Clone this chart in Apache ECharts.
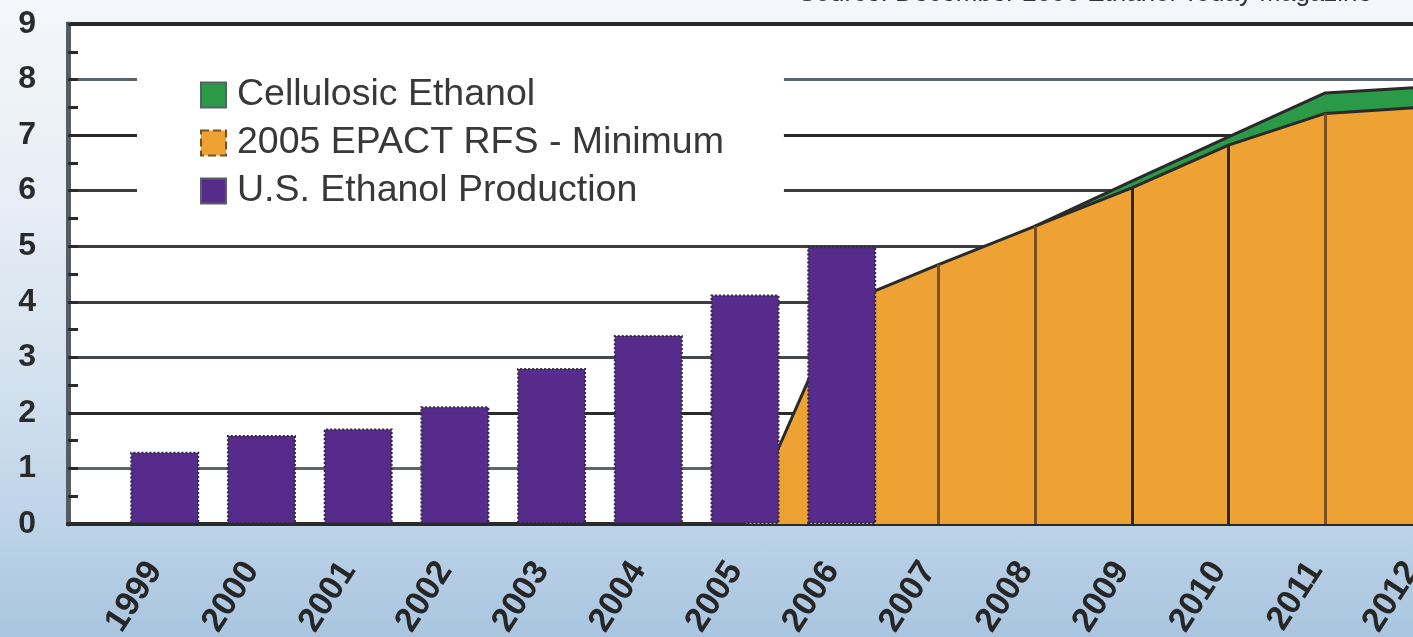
<!DOCTYPE html>
<html>
<head>
<meta charset="utf-8">
<script src="https://cdn.jsdelivr.net/npm/echarts@6/dist/echarts.min.js"></script>
<style>
html, body { margin: 0; padding: 0; overflow: hidden; width: 1413px; height: 637px; }
#chart { width: 1440px; height: 637px;
  background: linear-gradient(to bottom, #f4f7fb 0%, #e8eef6 30%, #d3e1ee 60%, #bdd3e8 82%, #a9c5df 100%); }
</style>
</head>
<body>
<div id="chart"></div>
<script>
// Categories (first slot is an empty lead-in position on the axis)
const categories = ['', '1999', '2000', '2001', '2002', '2003', '2004', '2005', '2006', '2007', '2008', '2009', '2010', '2011', '2012'];
// U.S. Ethanol Production (billion gallons)
const productionValues = [null, 1.30, 1.60, 1.72, 2.12, 2.81, 3.40, 4.13, 5.0, null, null, null, null, null, null];
// 2005 EPACT RFS - Minimum
const epactValues = [null, null, null, null, null, null, null, 0, 3.95, 4.67, 5.36, 6.05, 6.82, 7.39, 7.5];
// Cellulosic Ethanol (stacked on top of RFS)
const cellulosicValues = [null, null, null, null, null, null, null, null, null, null, 0, 0.12, 0.15, 0.37, 0.36];
// Years with drop lines inside the RFS area
const dropYears = ['2007', '2008', '2009', '2010', '2011'];
const dropColors = ['#7a5020', '#7a5020', '#2a2a2a', '#2a2a2a', '#7a5020'];
const legendNames = ['Cellulosic Ethanol', '2005 EPACT RFS - Minimum', 'U.S. Ethanol Production'];
const sourceText = 'Source: December 2006 Ethanol Today Magazine';

const FONT = 'Liberation Sans, Arial, sans-serif';
const chart = echarts.init(document.getElementById('chart'), null, { renderer: 'canvas' });

const dropLines = dropYears.map((y, i) => {
  const idx = categories.indexOf(y);
  return [
    { coord: [y, 0], lineStyle: { color: dropColors[i], width: 3, type: 'solid' } },
    { coord: [y, epactValues[idx]] }
  ];
});

const option = {
  animation: false,
  backgroundColor: 'transparent',
  textStyle: { fontFamily: FONT },
  graphic: [{
    type: 'text',
    x: 1372,
    y: 7,
    silent: true,
    style: { text: sourceText, font: '26px ' + FONT, fill: '#333', align: 'right', verticalAlign: 'bottom' }
  }],
  grid: {
    left: 68, right: 18, top: 24, bottom: 113,
    outerBoundsMode: 'none',
    containLabel: false,
    show: true, backgroundColor: '#ffffff', borderColor: '#2a2a2a', borderWidth: 4
  },
  legend: {
    orient: 'vertical',
    left: 137, top: 55,
    padding: [21, 60, 15, 63],
    backgroundColor: '#ffffff',
    itemGap: 10,
    itemWidth: 25, itemHeight: 25,
    icon: 'rect',
    textStyle: { fontFamily: FONT, fontSize: 37.5, color: '#383838', lineHeight: 36, padding: [0, 0, 0, 6] },
    data: [
      { name: legendNames[0], itemStyle: { color: '#2a9a48', borderColor: '#5a5f66', borderWidth: 2 } },
      { name: legendNames[1], itemStyle: { color: '#eea234', borderColor: '#7a5020', borderWidth: 2, borderType: 'dashed' } },
      { name: legendNames[2], itemStyle: { color: '#562b8c', borderColor: '#5a5f66', borderWidth: 2 } }
    ]
  },
  xAxis: {
    type: 'category',
    data: categories,
    boundaryGap: false,
    axisLine: { show: true, lineStyle: { color: '#2a2a2a', width: 4 } },
    axisTick: { show: false },
    splitLine: { show: false },
    axisLabel: {
      interval: 0, rotate: 57, margin: 26, padding: [0, 18, 0, 0],
      fontFamily: FONT, fontSize: 34, fontWeight: 'bold', color: '#262626'
    }
  },
  yAxis: {
    type: 'value',
    min: 0, max: 9, interval: 1,
    axisLine: { show: true, lineStyle: { color: '#555c63', width: 5 } },
    axisTick: { show: true, inside: true, length: 10, lineStyle: { color: '#2a2a2a', width: 3 } },
    minorTick: { show: true, splitNumber: 2, length: 10, lineStyle: { color: '#2a2a2a', width: 3 } },
    splitLine: {
      show: true,
      lineStyle: {
        width: 3,
        color: ['#2a2a2a', '#5c646c', '#2a2a2a', '#44484e', '#3a3d42', '#3a3d42', '#3a3d42', '#2a2a2a', '#5c646c', '#2a2a2a']
      }
    },
    axisLabel: { margin: 32, fontFamily: FONT, fontSize: 32, fontWeight: 'bold', color: '#2a2a2a' }
  },
  series: [
    {
      name: legendNames[1],
      type: 'line',
      stack: 'rfs',
      data: epactValues,
      showSymbol: false,
      z: 1,
      lineStyle: { color: '#2a2a2a', width: 3 },
      itemStyle: { color: '#eea234' },
      areaStyle: { color: '#eea234', opacity: 1 },
      markLine: {
        silent: true,
        symbol: ['none', 'none'],
        label: { show: false },
        data: dropLines
      }
    },
    {
      name: legendNames[0],
      type: 'line',
      stack: 'rfs',
      data: cellulosicValues,
      showSymbol: false,
      z: 1,
      lineStyle: { color: '#2a2a2a', width: 3 },
      itemStyle: { color: '#2a9a48' },
      areaStyle: { color: '#2a9a48', opacity: 1 }
    },
    {
      name: legendNames[2],
      type: 'bar',
      data: productionValues,
      barWidth: 69,
      z: 3,
      itemStyle: { color: '#562b8c', borderColor: '#2e2e3a', borderWidth: 2, borderType: 'dotted' }
    }
  ]
};
chart.setOption(option);
</script>
</body>
</html>
